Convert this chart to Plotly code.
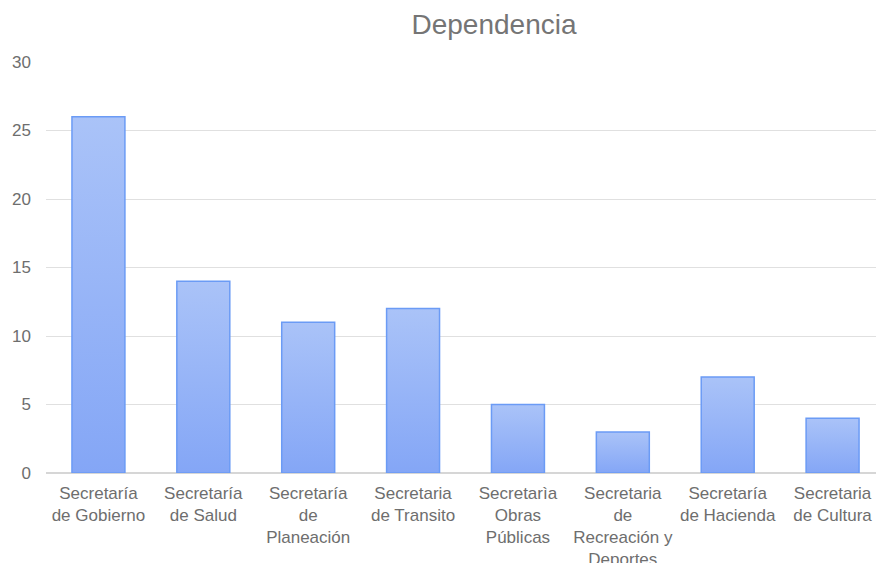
import plotly.graph_objects as go

# data
categories = [
    "Secretaría<br>de Gobierno",
    "Secretaría<br>de Salud",
    "Secretaría<br>de<br>Planeación",
    "Secretaria<br>de Transito",
    "Secretarìa<br>Obras<br>Públicas",
    "Secretaria<br>de<br>Recreación y<br>Deportes",
    "Secretaría<br>de Hacienda",
    "Secretaria<br>de Cultura",
]
values = [26, 14, 11, 12, 5, 3, 7, 4]
y_ticks = [0, 5, 10, 15, 20, 25, 30]

FONT = "Liberation Sans, Arial, sans-serif"
TEXT_GREY = "#757575"
HALF = 0.2525  # half bar width, in category units

fig = go.Figure()

# bars drawn as filled shapes so each one can carry a vertical gradient
for i, v in enumerate(values):
    fig.add_trace(go.Scatter(
        x=[i - HALF, i - HALF, i + HALF, i + HALF, i - HALF],
        y=[0, v, v, 0, 0],
        mode="lines",
        fill="toself",
        fillgradient=dict(
            type="vertical",
            colorscale=[[0, "#84a6f6"], [1, "#aac3f8"]],
        ),
        line=dict(color="#6b9bf5", width=1.5),
        hoverinfo="skip",
        showlegend=False,
    ))

fig.update_layout(
    width=876,
    height=563,
    margin=dict(l=46, r=0, t=62, b=90),
    paper_bgcolor="white",
    plot_bgcolor="white",
    font=dict(family=FONT, color=TEXT_GREY, size=17),
    title=dict(
        text="Dependencia",
        font=dict(family=FONT, size=28, color=TEXT_GREY),
        x=494 / 876,
        xref="container",
        xanchor="center",
        y=1 - 24 / 563,
        yref="container",
        yanchor="middle",
    ),
    xaxis=dict(
        range=[-0.5, 7.414],
        tickmode="array",
        tickvals=list(range(len(categories))),
        ticktext=categories,
        showgrid=False,
        zeroline=False,
        showline=False,
        ticks="",
        ticklabelstandoff=8,
        automargin=False,
        tickfont=dict(size=17, color="#6e6e6e"),
        fixedrange=True,
    ),
    yaxis=dict(
        range=[0, 30],
        tickmode="array",
        tickvals=y_ticks,
        showgrid=True,
        gridcolor="#e0e0e0",
        gridwidth=1,
        zeroline=True,
        zerolinecolor="#d6d6d6",
        zerolinewidth=1.5,
        showline=False,
        ticks="",
        ticklabelstandoff=14,
        automargin=False,
        tickfont=dict(size=17, color="#6e6e6e"),
        fixedrange=True,
    ),
)

# drop the browser's default body margin so the figure fills the window
fig.write_html(
    "out.html",
    config={"displayModeBar": False},
    post_script="document.body.style.margin='0';document.body.style.overflow='hidden';",
)
